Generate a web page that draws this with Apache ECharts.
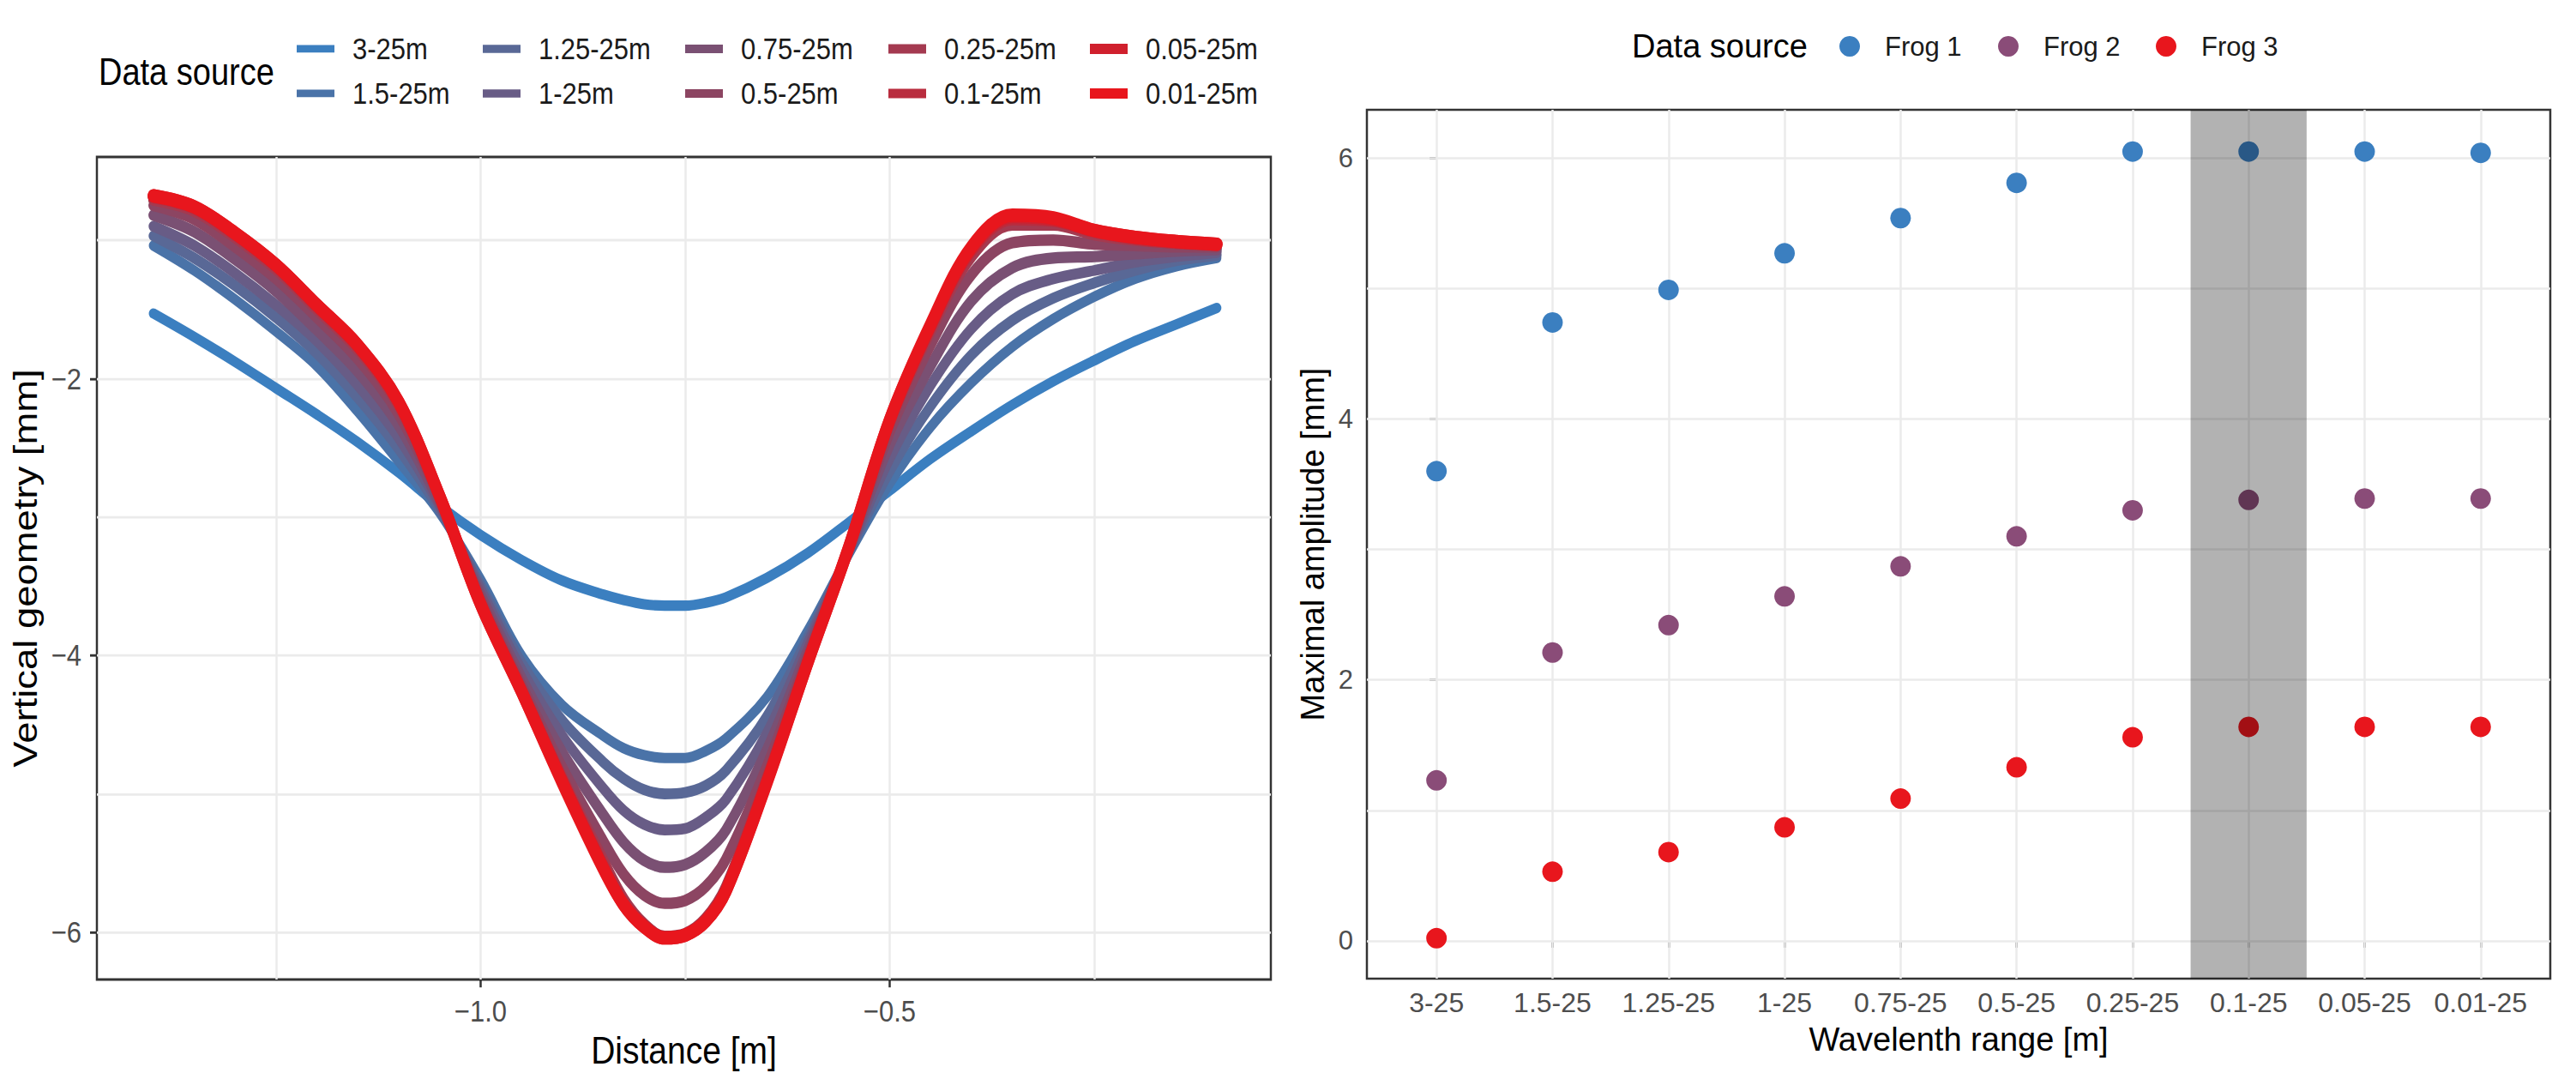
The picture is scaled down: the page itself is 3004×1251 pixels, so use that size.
<!DOCTYPE html>
<html>
<head>
<meta charset="utf-8">
<title>Vertical geometry / maximal amplitude</title>
<script src="https://cdn.jsdelivr.net/npm/echarts@6/dist/echarts.min.js"></script>
<style>
html, body { margin: 0; padding: 0; background: #fff; }
#wrap { position: relative; width: 3004px; height: 1251px; overflow: hidden; background: #fff; }
/* the left panel of the source figure is stretched vertically */
#left { position: absolute; left: 0; top: 0; width: 1500px; height: 1088px; transform: scaleY(1.15); transform-origin: 0 0; }
#right { position: absolute; left: 1500px; top: 0; width: 1504px; height: 1251px; }
</style>
</head>
<body>
<div id="wrap"><div id="left"></div><div id="right"></div></div>
<script>
// ---- left panel: vertical geometry along the distance ----
var distance = [-1.40, -1.35, -1.30, -1.25, -1.20, -1.15, -1.10, -1.05, -1.00, -0.95, -0.90, -0.85, -0.825, -0.80, -0.775,
                -0.75, -0.725, -0.70, -0.65, -0.60, -0.55, -0.50, -0.45, -0.40, -0.35, -0.30, -0.25, -0.20, -0.15, -0.10];

var geom_3   = [-1.53, -1.70, -1.88, -2.07, -2.26, -2.46, -2.68, -2.92, -3.13, -3.31, -3.46, -3.56, -3.60, -3.63, -3.64,
                -3.64, -3.62, -3.58, -3.44, -3.26, -3.04, -2.81, -2.58, -2.38, -2.19, -2.02, -1.87, -1.73, -1.61, -1.49];
var geom_15  = [-1.04, -1.22, -1.43, -1.66, -1.91, -2.24, -2.60, -2.97, -3.45, -4.00, -4.36, -4.58, -4.67, -4.72, -4.74,
                -4.74, -4.69, -4.60, -4.30, -3.82, -3.27, -2.76, -2.35, -2.03, -1.77, -1.57, -1.41, -1.28, -1.19, -1.13];
var geom_125 = [-0.97, -1.13, -1.33, -1.56, -1.82, -2.14, -2.51, -2.95, -3.49, -4.05, -4.47, -4.77, -4.89, -4.97, -5.00,
                -4.99, -4.94, -4.83, -4.44, -3.87, -3.26, -2.67, -2.20, -1.83, -1.58, -1.42, -1.31, -1.22, -1.15, -1.11];
var geom_1   = [-0.90, -1.04, -1.24, -1.47, -1.73, -2.05, -2.43, -2.92, -3.52, -4.10, -4.58, -4.96, -5.12, -5.22, -5.26,
                -5.25, -5.17, -5.04, -4.56, -3.91, -3.25, -2.58, -2.05, -1.64, -1.39, -1.28, -1.22, -1.16, -1.12, -1.09];
var geom_075 = [-0.82, -0.94, -1.14, -1.37, -1.65, -1.95, -2.34, -2.90, -3.56, -4.16, -4.70, -5.15, -5.35, -5.48, -5.53,
                -5.51, -5.42, -5.26, -4.68, -3.96, -3.24, -2.48, -1.91, -1.44, -1.20, -1.13, -1.12, -1.10, -1.08, -1.07];
var geom_05  = [-0.75, -0.85, -1.05, -1.28, -1.56, -1.86, -2.26, -2.87, -3.59, -4.21, -4.81, -5.34, -5.58, -5.73, -5.79,
                -5.77, -5.67, -5.47, -4.80, -4.00, -3.23, -2.39, -1.76, -1.25, -1.02, -1.00, -1.03, -1.04, -1.05, -1.05];
var geom_025 = [-0.71, -0.79, -0.98, -1.21, -1.50, -1.79, -2.20, -2.86, -3.62, -4.24, -4.88, -5.48, -5.76, -5.94, -6.03,
                -6.01, -5.90, -5.67, -4.88, -4.03, -3.22, -2.33, -1.66, -1.12, -0.89, -0.89, -0.96, -1.00, -1.02, -1.04];
var geom_01  = [-0.69, -0.77, -0.96, -1.19, -1.48, -1.77, -2.18, -2.85, -3.62, -4.25, -4.90, -5.52, -5.79, -5.95, -6.04,
                -6.02, -5.91, -5.69, -4.90, -4.04, -3.22, -2.31, -1.63, -1.08, -0.85, -0.86, -0.94, -0.99, -1.02, -1.03];
var geom_005 = [-0.68, -0.76, -0.95, -1.18, -1.47, -1.76, -2.17, -2.85, -3.63, -4.26, -4.91, -5.53, -5.80, -5.96, -6.04,
                -6.02, -5.92, -5.70, -4.91, -4.05, -3.22, -2.30, -1.62, -1.06, -0.83, -0.85, -0.93, -0.98, -1.01, -1.03];
var geom_001 = [-0.68, -0.76, -0.95, -1.18, -1.47, -1.76, -2.17, -2.85, -3.63, -4.26, -4.92, -5.54, -5.80, -5.96, -6.04,
                -6.02, -5.92, -5.70, -4.92, -4.05, -3.22, -2.30, -1.61, -1.05, -0.82, -0.84, -0.93, -0.98, -1.01, -1.03];

var sourceNames = ['3-25m', '1.5-25m', '1.25-25m', '1-25m', '0.75-25m', '0.5-25m', '0.25-25m', '0.1-25m', '0.05-25m', '0.01-25m'];
var sourceValues = [geom_3, geom_15, geom_125, geom_1, geom_075, geom_05, geom_025, geom_01, geom_005, geom_001];
var sourceColors = ['#3b7fc0', '#4a73a8', '#596896', '#685c86', '#7a5073', '#8c4562', '#a43a50', '#b92c3e', '#d0202d', '#e8161d'];
var sourceWidths = [10.5, 10.5, 11, 11, 11.5, 11.5, 12, 12.5, 13.5, 13.5];

// ---- right panel: maximal amplitude per wavelength range ----
var wavelength = ['3-25', '1.5-25', '1.25-25', '1-25', '0.75-25', '0.5-25', '0.25-25', '0.1-25', '0.05-25', '0.01-25'];
var frog1 = [3.60, 4.74, 4.99, 5.27, 5.54, 5.81, 6.05, 6.05, 6.05, 6.04];
var frog2 = [1.23, 2.21, 2.42, 2.64, 2.87, 3.10, 3.30, 3.38, 3.39, 3.39];
var frog3 = [0.02, 0.53, 0.68, 0.87, 1.09, 1.33, 1.56, 1.64, 1.64, 1.64];
var frogNames = ['Frog 1', 'Frog 2', 'Frog 3'];
var frogColors = ['#3b7fc0', '#8a4c78', '#e8161d'];
var highlighted = '0.1-25';

var chartLeft = echarts.init(document.getElementById('left'), null, { renderer: 'svg' });
var chartRight = echarts.init(document.getElementById('right'), null, { renderer: 'svg' });
var FONT = '"Liberation Sans", Arial, Helvetica, sans-serif';
var GRIDLINE = { color: '#ebebeb', width: 2.5, type: 'solid' };
var SY = 1.15; // vertical stretch of the left panel

function toPairs(xs, ys) {
    var out = [];
    for (var i = 0; i < xs.length; i++) out.push([xs[i], ys[i]]);
    return out;
}
function minus(s) { return s.replace('-', '\u2212'); }
// grid lines as markLines so they sit under the data
function gridLines(xs, ys) {
    var d = [];
    xs.forEach(function (v) { d.push({ xAxis: v }); });
    ys.forEach(function (v) { d.push({ yAxis: v }); });
    return {
        silent: true, z: 1, symbol: ['none', 'none'], animation: false,
        label: { show: false }, emphasis: { disabled: true },
        lineStyle: GRIDLINE, data: d
    };
}

var tickLabel = { fontFamily: FONT, fontSize: 31, color: '#4d4d4d' };
var tickStyle = { show: true, length: 8, lineStyle: { color: '#333', width: 2.5 } };

// ---------- left chart ----------
var leftSeries = sourceNames.map(function (name, k) {
    var s = {
        name: name, type: 'line',
        data: toPairs(distance, sourceValues[k]),
        showSymbol: false, smooth: 0.35, z: 2, animation: false,
        lineStyle: { color: sourceColors[k], width: sourceWidths[k], cap: 'round', join: 'round' },
        itemStyle: { color: sourceColors[k] }
    };
    if (k === 0) s.markLine = gridLines([-1.25, -1.0, -0.75, -0.5, -0.25], [-6, -5, -4, -3, -2, -1]);
    return s;
});

var legendCols = [
    { left: 346, h: 7.5, names: ['3-25m', '1.5-25m'] },
    { left: 563, h: 8.3, names: ['1.25-25m', '1-25m'] },
    { left: 799, h: 8.7, names: ['0.75-25m', '0.5-25m'] },
    { left: 1036, h: 9.6, names: ['0.25-25m', '0.1-25m'] },
    { left: 1271, h: 10.4, names: ['0.05-25m', '0.01-25m'] }
];
var leftLegends = legendCols.map(function (c) {
    return {
        orient: 'vertical', left: c.left, top: 34, padding: 0,
        itemWidth: 44, itemHeight: c.h, itemGap: 14.2, selectedMode: false,
        data: c.names.map(function (n) { return { name: n, icon: 'rect' }; }),
        textStyle: { fontFamily: FONT, fontSize: 31, lineHeight: 31, color: '#1a1a1a', padding: [0, 0, 0, 16] }
    };
});

chartLeft.setOption({
    backgroundColor: '#fff',
    animation: false,
    textStyle: { fontFamily: FONT },
    title: { text: 'Data source', left: 115, top: 54, padding: 0,
             textStyle: { fontFamily: FONT, fontSize: 38, lineHeight: 38, fontWeight: 'normal', color: '#000' } },
    legend: leftLegends,
    grid: { left: 113, top: 183 / SY, width: 1369, height: 959 / SY, show: true, backgroundColor: '#fff',
            borderColor: '#333', borderWidth: 2.5, containLabel: false, outerBoundsMode: 'none' },
    xAxis: {
        type: 'value', min: -1.469, max: -0.034,
        name: 'Distance [m]', nameLocation: 'middle', nameGap: 39,
        nameTextStyle: { fontFamily: FONT, fontSize: 39, color: '#000' },
        axisLine: { show: false }, splitLine: { show: false },
        axisTick: Object.assign({ customValues: [-1.0, -0.5] }, tickStyle),
        axisLabel: Object.assign({ customValues: [-1.0, -0.5], margin: 16.5,
            formatter: function (v) { return minus(v.toFixed(1)); } }, tickLabel)
    },
    yAxis: {
        type: 'value', min: -6.34, max: -0.40,
        name: 'Vertical geometry [mm]', nameLocation: 'middle', nameRotate: 90, nameGap: 48,
        nameTextStyle: { fontFamily: FONT, fontSize: 39.5, color: '#000' },
        axisLine: { show: false }, splitLine: { show: false },
        axisTick: Object.assign({ customValues: [-6, -4, -2] }, tickStyle),
        axisLabel: Object.assign({ customValues: [-6, -4, -2], margin: 18,
            formatter: function (v) { return minus(String(Math.round(v))); } }, tickLabel)
    },
    series: leftSeries
});

// ---------- right chart ----------
var frogValues = [frog1, frog2, frog3];
var idx = wavelength.map(function (w, i) { return i; });
var rightSeries = frogNames.map(function (name, k) {
    var s = {
        name: name, type: 'scatter',
        data: toPairs(idx, frogValues[k]),
        symbolSize: 24, z: 2, animation: false,
        itemStyle: { color: frogColors[k], opacity: 1 }
    };
    if (k === 0) s.markLine = gridLines(idx, [0, 1, 2, 3, 4, 5, 6]);
    if (k === 2) {
        var h = wavelength.indexOf(highlighted);
        s.markArea = {
            silent: true, z: 3, animation: false,
            itemStyle: { color: 'rgba(0,0,0,0.3)' },
            data: [[{ xAxis: h - 0.5 }, { xAxis: h + 0.5 }]]
        };
    }
    return s;
});
var rightLegends = [645, 830, 1014].map(function (x, k) {
    return {
        orient: 'horizontal', left: x, top: 38.5, padding: 0,
        itemWidth: 24, itemHeight: 24, selectedMode: false,
        data: [{ name: frogNames[k], icon: 'circle' }],
        textStyle: { fontFamily: FONT, fontSize: 31, lineHeight: 31, color: '#1a1a1a', padding: [0, 0, 0, 24] }
    };
});

chartRight.setOption({
    backgroundColor: '#fff',
    animation: false,
    textStyle: { fontFamily: FONT },
    title: { text: 'Data source', left: 403, top: 35, padding: 0,
             textStyle: { fontFamily: FONT, fontSize: 38, lineHeight: 38, fontWeight: 'normal', color: '#000' } },
    legend: rightLegends,
    grid: { left: 94, top: 128, width: 1380, height: 1013, show: true, backgroundColor: '#fff',
            borderColor: '#333', borderWidth: 2.5, containLabel: false, outerBoundsMode: 'none' },
    xAxis: {
        type: 'value', min: -0.6, max: 9.6,
        name: 'Wavelenth range [m]', nameLocation: 'middle', nameGap: 52,
        nameTextStyle: { fontFamily: FONT, fontSize: 38, color: '#000' },
        axisLine: { show: false }, splitLine: { show: false },
        axisTick: Object.assign({ customValues: idx }, tickStyle),
        axisLabel: Object.assign({ customValues: idx, margin: 12,
            formatter: function (v) { return wavelength[Math.round(v)]; } }, tickLabel, { fontSize: 32 })
    },
    yAxis: {
        type: 'value', min: -0.29, max: 6.37,
        name: 'Maximal amplitude [mm]', nameLocation: 'middle', nameRotate: 90, nameGap: 40,
        nameTextStyle: { fontFamily: FONT, fontSize: 38, color: '#000' },
        axisLine: { show: false }, splitLine: { show: false },
        axisTick: Object.assign({ customValues: [0, 2, 4, 6] }, tickStyle),
        axisLabel: Object.assign({ customValues: [0, 2, 4, 6], margin: 16,
            formatter: function (v) { return String(Math.round(v)); } }, tickLabel)
    },
    series: rightSeries
});
</script>
</body>
</html>
